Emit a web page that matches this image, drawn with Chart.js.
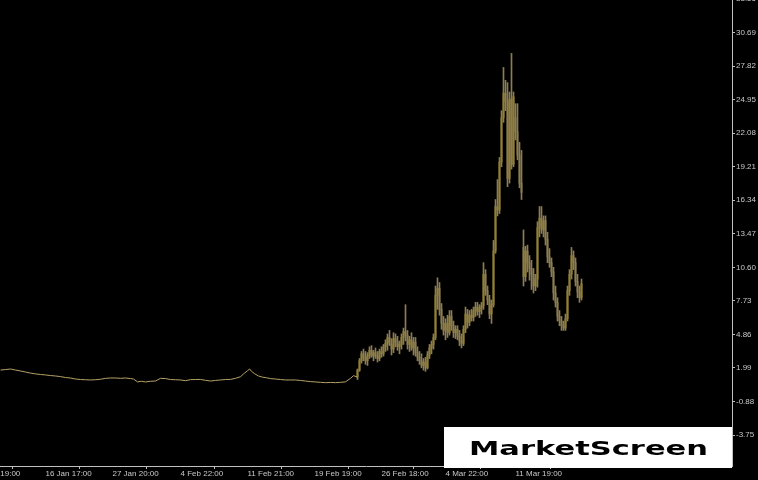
<!DOCTYPE html>
<html>
<head>
<meta charset="utf-8">
<script src="https://cdn.jsdelivr.net/npm/chart.js@4.4.1/dist/chart.umd.min.js"></script>
<style>
  html, body { margin: 0; padding: 0; background: #000; }
  #wrap { width: 758px; height: 480px; position: relative; }
</style>
</head>
<body>
<div id="wrap"><canvas id="priceChart"></canvas></div>
<script>
// --- DATA ---
// quiet stretch before the breakout, closes (bar index, price)
const flatBars = [0, 5, 10, 15, 20, 25, 30, 35, 40, 45, 50, 55, 60, 65, 70, 75, 80, 85, 90, 95,
  100, 105, 110, 115, 120, 125, 130, 133, 137, 141, 145, 150, 155, 160, 165, 170, 175, 180, 185, 190,
  195, 200, 205, 210, 215, 220, 225, 230, 235, 240, 244, 247, 249, 251, 254, 258, 262, 266, 270, 275,
  280, 285, 290, 295, 300, 305, 310, 315, 320, 325, 330, 335, 340, 345, 350, 353, 357];
const flatClose = [1.81, 1.85, 1.90, 1.81, 1.73, 1.64, 1.55, 1.48, 1.43, 1.39, 1.34, 1.30, 1.25, 1.17, 1.13, 1.04, 1.00, 0.98, 0.96, 0.98,
  1.02, 1.10, 1.13, 1.13, 1.10, 1.13, 1.08, 1.04, 0.80, 0.85, 0.79, 0.85, 0.87, 1.10, 1.08, 1.00, 0.98, 0.96, 0.90, 0.99,
  1.00, 1.01, 0.93, 0.87, 0.92, 0.96, 1.00, 1.01, 1.10, 1.24, 1.55, 1.75, 1.90, 1.70, 1.50, 1.30, 1.20, 1.15, 1.08, 1.04,
  1.00, 0.96, 0.96, 0.96, 0.92, 0.87, 0.82, 0.79, 0.76, 0.73, 0.75, 0.73, 0.76, 0.80, 1.10, 1.33, 1.20];

// candles from the breakout on, one every 2 bars starting at bar 357
const firstCandle = 357;
const opens = [1.2, 1.8, 2.6, 3.2, 2.9, 2.6, 3.1, 3.5, 3.0, 3.3, 3.0, 2.8, 3.4, 3.2, 3.8, 4.1, 4.6, 4.0, 3.6, 4.5,
  4.2, 3.8, 4.0, 4.6, 5.1, 4.8, 4.0, 4.4, 3.7, 4.2, 3.3, 2.9, 2.6, 2.2, 2.5, 2.0, 3.1, 3.7, 4.0, 4.6,
  8.2, 8.8, 7.0, 5.8, 5.2, 5.8, 5.0, 6.4, 5.6, 5.0, 5.3, 4.7, 4.3, 4.1, 5.3, 6.6, 5.9, 6.5, 6.3, 6.9,
  7.2, 6.8, 7.1, 7.3, 10.0, 8.6, 7.8, 6.6, 7.4, 12.0, 15.8, 15.5, 19.6, 23.4, 25.5, 24.8, 18.2, 25.0, 19.4, 23.4,
  22.2, 20.2, 17.8, 12.3, 9.8, 12.0, 11.0, 10.5, 10.0, 9.0, 9.6, 14.0, 14.8, 13.8, 14.6, 13.0, 11.5, 11.0, 10.2, 8.4,
  7.6, 6.4, 6.0, 5.6, 5.4, 6.2, 8.6, 10.0, 11.6, 11.0, 9.4, 8.5, 8.0];
const highs = [1.9, 2.8, 3.4, 3.6, 3.4, 3.3, 3.8, 3.9, 3.5, 3.7, 3.4, 3.6, 3.8, 4.0, 4.4, 4.9, 5.2, 4.5, 5.0, 4.9,
  4.7, 4.3, 4.9, 5.4, 7.4, 5.2, 4.7, 5.0, 4.6, 4.6, 3.8, 3.4, 3.2, 2.8, 2.9, 3.4, 4.0, 4.3, 4.9, 9.0,
  9.7, 9.3, 7.5, 6.4, 6.2, 6.5, 6.9, 6.9, 6.0, 5.6, 5.6, 5.2, 4.9, 5.6, 7.2, 7.0, 6.9, 7.0, 7.2, 7.6,
  7.6, 7.4, 7.6, 11.0, 10.4, 9.0, 8.2, 7.8, 12.9, 16.4, 18.1, 20.0, 24.0, 27.7, 26.6, 26.4, 25.6, 28.9, 25.6, 24.6,
  24.6, 21.3, 20.6, 13.8, 12.4, 12.5, 11.6, 11.2, 10.5, 10.0, 14.5, 15.8, 15.8, 15.0, 15.0, 13.6, 12.2, 11.4, 10.6, 9.0,
  8.0, 6.9, 6.4, 6.0, 6.6, 9.0, 10.4, 12.3, 12.0, 11.4, 10.0, 9.0, 9.6];
const lows = [1.0, 1.7, 2.4, 2.6, 2.3, 2.2, 2.8, 2.9, 2.6, 2.8, 2.5, 2.6, 2.9, 3.0, 3.4, 3.5, 3.9, 3.1, 3.3, 3.8,
  3.5, 3.2, 3.6, 4.0, 4.3, 3.6, 3.4, 3.5, 3.1, 3.0, 2.6, 2.3, 2.0, 1.8, 1.7, 1.9, 2.8, 3.2, 3.6, 4.4,
  7.0, 6.5, 5.3, 4.8, 4.4, 4.6, 4.8, 5.2, 4.6, 4.5, 4.4, 3.9, 3.7, 3.9, 5.0, 5.4, 5.6, 6.0, 6.0, 6.4,
  6.5, 6.3, 6.6, 7.0, 8.2, 7.4, 6.2, 5.8, 7.2, 11.8, 15.0, 15.2, 19.2, 23.0, 24.0, 17.5, 17.8, 19.0, 19.2, 21.5,
  19.8, 17.4, 16.4, 9.0, 9.4, 10.2, 9.5, 8.7, 8.4, 8.6, 8.9, 13.2, 13.5, 13.2, 12.5, 11.0, 10.6, 9.8, 7.8, 7.2,
  6.0, 5.6, 5.2, 5.2, 5.2, 6.0, 8.2, 9.6, 10.4, 9.0, 8.0, 7.6, 7.8];
const closes = [1.8, 2.6, 3.2, 2.9, 2.6, 3.1, 3.5, 3.0, 3.3, 3.0, 2.8, 3.4, 3.2, 3.8, 4.1, 4.6, 4.0, 3.6, 4.5, 4.2,
  3.8, 4.0, 4.6, 5.1, 4.8, 4.0, 4.4, 3.7, 4.2, 3.3, 2.9, 2.6, 2.2, 2.5, 2.0, 3.1, 3.7, 4.0, 4.6, 8.2,
  8.8, 7.0, 5.8, 5.2, 5.8, 5.0, 6.4, 5.6, 5.0, 5.3, 4.7, 4.3, 4.1, 5.3, 6.6, 5.9, 6.5, 6.3, 6.9, 7.2,
  6.8, 7.1, 7.3, 10.0, 8.6, 7.8, 6.6, 7.4, 12.0, 15.8, 15.5, 19.6, 23.4, 25.5, 24.8, 18.2, 25.0, 19.4, 25.2, 22.2,
  20.2, 17.8, 17.0, 9.8, 12.0, 11.0, 10.5, 10.0, 9.0, 9.6, 14.0, 14.8, 13.8, 14.6, 13.0, 11.5, 11.0, 10.2, 8.4, 7.6,
  6.4, 6.0, 5.6, 5.4, 6.2, 8.6, 10.0, 11.6, 11.0, 9.4, 8.5, 8.0, 9.2];

// axis ticks
const priceTicks = [33.56, 30.69, 27.82, 24.95, 22.08, 19.21, 16.34, 13.47, 10.60, 7.73, 4.86, 1.99, -0.88, -3.75];
const timeTickBars = [-22, 45, 112, 180, 247, 314, 381, 445, 515];
const timeTickLabels = ['8 Jan 19:00', '16 Jan 17:00', '27 Jan 20:00', '4 Feb 22:00', '11 Feb 21:00',
  '19 Feb 19:00', '26 Feb 18:00', '4 Mar 22:00', '11 Mar 19:00'];

// --- STYLE ---
const AXIS_COLOR = '#c0c0c0';
const TEXT_COLOR = '#c8c8c8';
const WICK_COLOR = '#8c7d52';
const UP_COLOR = '#ecc92c';
const DOWN_COLOR = '#b8a66a';
const LINE_COLOR = '#b6a266';

const candleX = opens.map((_, i) => firstCandle + i * 2);
const wickData = candleX.map((x, i) => ({ x: x, y: [lows[i], highs[i]] }));
const bodyData = candleX.map((x, i) => ({ x: x, y: [opens[i], closes[i]] }));
const bodyColors = opens.map((o, i) => closes[i] >= o ? UP_COLOR : DOWN_COLOR);
const lineData = flatBars.map((x, i) => ({ x: x, y: flatClose[i] }));

// white logo box in the lower right corner
const logoPlugin = {
    id: 'logo',
    afterDraw(chart) {
        const c = chart.ctx;
        c.save();
        c.fillStyle = '#ffffff';
        c.fillRect(444, 427, 288, 41);
        c.font = 'bold 20px "DejaVu Sans"';
        c.fillStyle = '#000000';
        c.textBaseline = 'alphabetic';
        c.textAlign = 'center';
        const text = 'MarketScreen';
        const w = c.measureText(text).width;
        c.translate(588.5, 455);
        c.scale(239 / w, 1);
        c.fillText(text, 0, 0);
        c.restore();
    }
};

new Chart(document.getElementById('priceChart'), {
    type: 'bar',
    data: {
        datasets: [
            {
                type: 'line',
                data: lineData,
                borderColor: LINE_COLOR,
                borderWidth: 1,
                pointRadius: 0,
                tension: 0
            },
            {
                data: wickData,
                backgroundColor: WICK_COLOR,
                barThickness: 1,
                grouped: false,
                minBarLength: 1
            },
            {
                data: bodyData,
                backgroundColor: bodyColors,
                barThickness: 1,
                grouped: false,
                minBarLength: 1
            }
        ]
    },
    options: {
        responsive: true,
        maintainAspectRatio: false,
        animation: false,
        layout: { padding: 0 },
        plugins: {
            legend: { display: false },
            tooltip: { enabled: false }
        },
        scales: {
            x: {
                type: 'linear',
                // half-bar shift so each bar sits on a whole pixel column
                min: -0.5,
                max: 731.5,
                offset: false,
                border: { color: AXIS_COLOR },
                grid: { drawOnChartArea: false, color: AXIS_COLOR, tickLength: 3 },
                ticks: {
                    color: TEXT_COLOR,
                    font: { family: 'Liberation Sans', size: 8 },
                    align: 'start',
                    padding: 0,
                    autoSkip: false,
                    maxRotation: 0,
                    minRotation: 0,
                    callback: (v, i) => timeTickLabels[i]
                },
                afterBuildTicks: (scale) => {
                    scale.ticks = timeTickBars.map(v => ({ value: v }));
                },
                afterFit: (scale) => {
                    scale.height = 14;
                    scale.paddingLeft = 0;
                    scale.paddingRight = 0;
                }
            },
            y: {
                position: 'right',
                min: -6.40,
                max: 33.47,
                border: { color: AXIS_COLOR },
                grid: { drawOnChartArea: false, color: AXIS_COLOR, tickLength: 3 },
                ticks: {
                    color: TEXT_COLOR,
                    font: { family: 'Liberation Sans', size: 8 },
                    padding: 1,
                    callback: (v) => Number(v).toFixed(2)
                },
                afterBuildTicks: (scale) => {
                    scale.ticks = priceTicks.map(v => ({ value: v }));
                },
                afterFit: (scale) => {
                    scale.width = 26;
                    scale.paddingTop = 0;
                    scale.paddingBottom = 0;
                }
            }
        }
    },
    plugins: [logoPlugin]
});
</script>
</body>
</html>
